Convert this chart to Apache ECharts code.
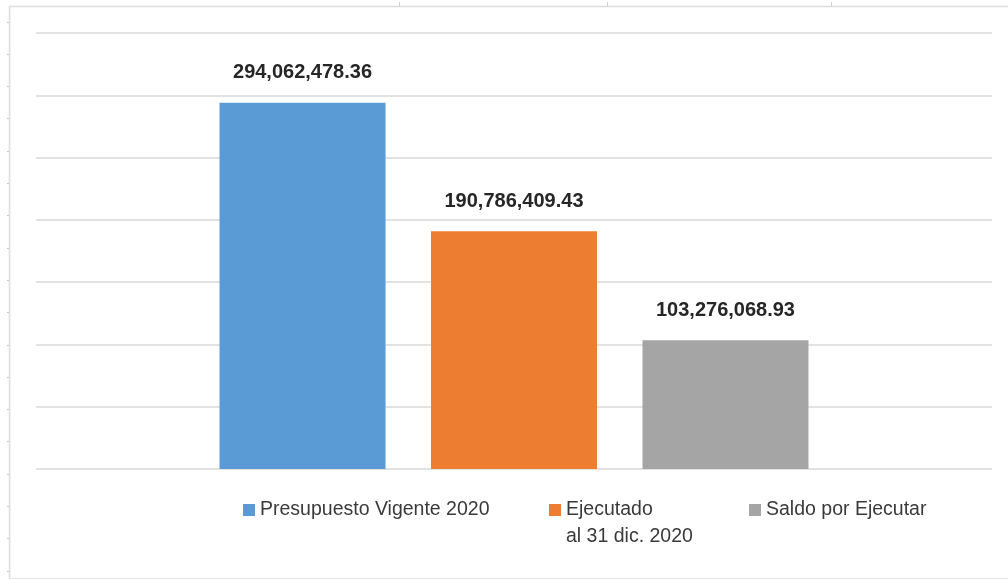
<!DOCTYPE html>
<html>
<head>
<meta charset="utf-8">
<script src="https://cdn.jsdelivr.net/npm/echarts@6/dist/echarts.min.js"></script>
<style>
  html, body { margin: 0; padding: 0; background: #fff; }
  #chart { width: 1008px; height: 580px; }
</style>
</head>
<body>
<div id="chart"></div>
<script>
  // una sola categoria, tres series (como en Excel)
  const categories = ['']
  const seriesNames = ['Presupuesto Vigente 2020', 'Ejecutado\nal 31 dic. 2020', 'Saldo por Ejecutar']
  const seriesValues = [294062478.36, 190786409.43, 103276068.93]
  const seriesColors = ['#5B9BD5', '#ED7D31', '#A5A5A5']
  const legendLeft = [243, 549, 749]

  const fmt = (v) => Number(v).toLocaleString('en-US', { minimumFractionDigits: 2, maximumFractionDigits: 2 })

  const chart = echarts.init(document.getElementById('chart'))

  // el texto de la leyenda va centrado en el icono: con una linea vacia
  // delante, la primera linea real queda alineada con el cuadrito
  const legends = seriesNames.map((name, i) => {
    const multi = name.indexOf('\n') >= 0
    return {
      data: [name],
      left: legendLeft[i],
      top: multi ? 469.5 : 496.5,
      padding: 0,
      icon: 'rect',
      itemWidth: 12,
      itemHeight: 12,
      itemGap: 0,
      selectedMode: false,
      formatter: (n) => (multi ? '\n' + n : n),
      textStyle: {
        fontFamily: 'Liberation Sans',
        fontSize: 19.5,
        color: '#3A3A3A',
        lineHeight: 27
      }
    }
  })

  const series = seriesNames.map((name, i) => ({
    name: name,
    type: 'bar',
    data: [seriesValues[i]],
    barWidth: 166,
    barGap: '27.4%',
    itemStyle: { color: seriesColors[i] },
    label: {
      show: true,
      position: 'top',
      distance: 20,
      formatter: (p) => fmt(p.value),
      fontFamily: 'Liberation Sans',
      fontWeight: 'bold',
      fontSize: 20,
      color: '#262626'
    }
  }))

  // marco y marcas de celda de la hoja
  const frame = [
    { type: 'line', shape: { x1: 9.5, y1: 6, x2: 9.5, y2: 579 }, style: { stroke: '#DCDCDC', lineWidth: 1.5 } },
    { type: 'line', shape: { x1: 9, y1: 6.5, x2: 1008, y2: 6.5 }, style: { stroke: '#DCDCDC', lineWidth: 1.5 } },
    { type: 'line', shape: { x1: 9, y1: 578.5, x2: 1008, y2: 578.5 }, style: { stroke: '#E4E4E4', lineWidth: 1 } }
  ]
  ;[399, 607, 831].forEach((x) => {
    frame.push({ type: 'line', shape: { x1: x + 0.5, y1: 2, x2: x + 0.5, y2: 6 }, style: { stroke: '#D0D0D0', lineWidth: 1 } })
  })
  for (let y = 21.5; y < 578; y += 32.3) {
    frame.push({ type: 'line', shape: { x1: 7, y1: Math.round(y) + 0.5, x2: 9, y2: Math.round(y) + 0.5 }, style: { stroke: '#C8C8C8', lineWidth: 1 } })
  }

  const options = {
    animation: false,
    graphic: frame,
    legend: legends,
    grid: {
      left: 36,
      right: 16,
      top: 33,
      bottom: 111
    },
    xAxis: {
      type: 'category',
      data: categories,
      axisLine: { show: false },
      axisTick: { show: false },
      axisLabel: { show: false }
    },
    yAxis: {
      type: 'value',
      min: 0,
      max: 350000000,
      interval: 50000000,
      axisLine: { show: false },
      axisTick: { show: false },
      axisLabel: { show: false },
      splitLine: { lineStyle: { color: '#D9D9D9', width: 1.5 } }
    },
    series: series
  }
  chart.setOption(options)
</script>
</body>
</html>
